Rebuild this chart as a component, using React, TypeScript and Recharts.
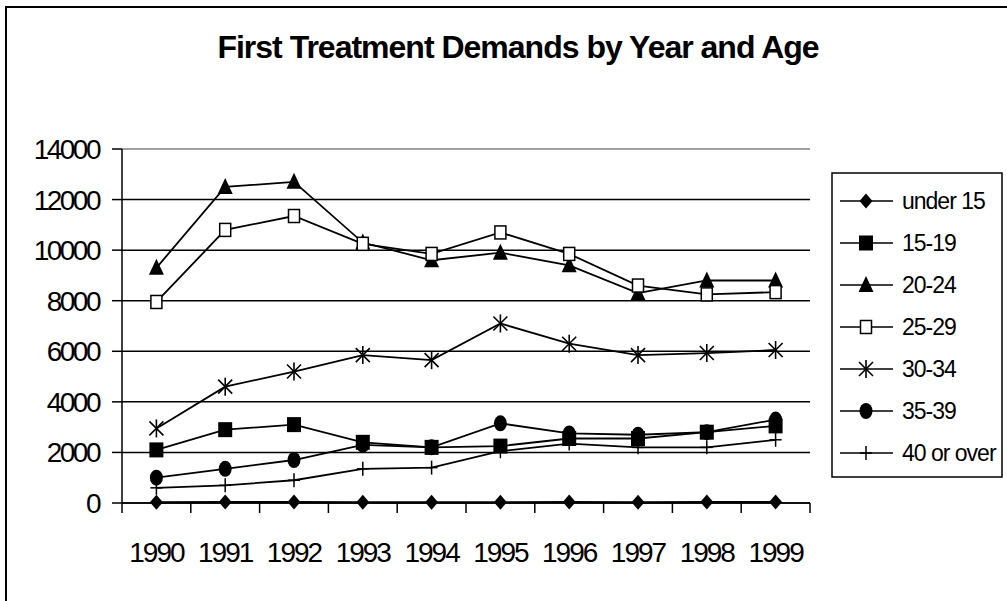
import { LineChart, Line, XAxis, YAxis, CartesianGrid, ReferenceLine } from 'recharts';

// First treatment demands, by year and age band
const years = ['1990', '1991', '1992', '1993', '1994', '1995', '1996', '1997', '1998', '1999'];
const under15 = [30, 40, 40, 30, 30, 30, 40, 30, 40, 40];
const age15to19 = [2100, 2900, 3100, 2400, 2200, 2250, 2550, 2550, 2800, 3050];
const age20to24 = [9300, 12500, 12700, 10300, 9600, 9900, 9400, 8300, 8800, 8800];
const age25to29 = [7950, 10800, 11350, 10250, 9850, 10700, 9850, 8600, 8250, 8340];
const age30to34 = [2950, 4600, 5200, 5850, 5650, 7100, 6300, 5850, 5930, 6050];
const age35to39 = [1000, 1350, 1700, 2300, 2200, 3150, 2750, 2700, 2800, 3300];
const age40plus = [600, 700, 900, 1350, 1400, 2050, 2350, 2200, 2200, 2500];
const yTicks = [0, 2000, 4000, 6000, 8000, 10000, 12000, 14000];

const seriesList = [
  { key: 'under15', name: 'under 15', values: under15, shape: 'diamond' },
  { key: 'a1519', name: '15-19', values: age15to19, shape: 'square' },
  { key: 'a2024', name: '20-24', values: age20to24, shape: 'triangle' },
  { key: 'a2529', name: '25-29', values: age25to29, shape: 'openSquare' },
  { key: 'a3034', name: '30-34', values: age30to34, shape: 'star' },
  { key: 'a3539', name: '35-39', values: age35to39, shape: 'circle' },
  { key: 'a40', name: '40 or over', values: age40plus, shape: 'plus' },
];

const data = years.map((year, i) => {
  const row: Record<string, string | number> = { year };
  seriesList.forEach((s) => { row[s.key] = s.values[i]; });
  return row;
});

const FONT = '"Liberation Sans", Arial, sans-serif';
const PLOT_LEFT = 122;
const PLOT_RIGHT = 810;
const BAND = (PLOT_RIGHT - PLOT_LEFT) / years.length;

function Marker({ shape, cx, cy }: { shape: string; cx: number; cy: number }) {
  if (cx == null || cy == null) return null;
  switch (shape) {
    case 'diamond':
      return <polygon points={`${cx},${cy - 7.5} ${cx + 6.5},${cy} ${cx},${cy + 7.5} ${cx - 6.5},${cy}`} fill="#000" />;
    case 'square':
      return <rect x={cx - 7} y={cy - 7.5} width={14} height={15} fill="#000" />;
    case 'triangle':
      return <polygon points={`${cx},${cy - 9} ${cx + 7.5},${cy + 7} ${cx - 7.5},${cy + 7}`} fill="#000" />;
    case 'openSquare':
      return <rect x={cx - 5.5} y={cy - 6.5} width={11} height={13} fill="#fff" stroke="#000" strokeWidth={1.5} />;
    case 'star':
      return (
        <g stroke="#000" strokeWidth={1.6}>
          <line x1={cx} y1={cy - 9} x2={cx} y2={cy + 9} />
          <line x1={cx - 7} y1={cy - 7} x2={cx + 7} y2={cy + 7} />
          <line x1={cx - 7} y1={cy + 7} x2={cx + 7} y2={cy - 7} />
        </g>
      );
    case 'circle':
      return <ellipse cx={cx} cy={cy} rx={6.5} ry={8} fill="#000" />;
    case 'plus':
      return (
        <g stroke="#000" strokeWidth={1.5}>
          <line x1={cx} y1={cy - 7} x2={cx} y2={cy + 7} />
          <line x1={cx - 6} y1={cy} x2={cx + 6} y2={cy} />
        </g>
      );
    default:
      return null;
  }
}

function YearTick(props: any) {
  const { x, y, payload, index } = props;
  const last = index === years.length - 1;
  return (
    <g>
      <line x1={x - BAND / 2} y1={y} x2={x - BAND / 2} y2={y + 10} stroke="#000" strokeWidth={1.5} />
      {last && <line x1={x + BAND / 2} y1={y} x2={x + BAND / 2} y2={y + 10} stroke="#000" strokeWidth={1.5} />}
      <text x={x} y={y + 59} textAnchor="middle" fontSize={28} fontFamily={FONT} letterSpacing={-2} fill="#000">
        {payload.value}
      </text>
    </g>
  );
}

function ChartLegend() {
  return (
    <svg width={172} height={306} style={{ position: 'absolute', left: 831, top: 172 }}>
      <rect x={1} y={1} width={170} height={304} fill="#fff" stroke="#000" strokeWidth={1.5} />
      {seriesList.map((s, i) => {
        const cy = 29 + i * 42;
        return (
          <g key={s.key}>
            <line x1={9} y1={cy} x2={62} y2={cy} stroke="#000" strokeWidth={1.6} />
            <Marker shape={s.shape} cx={35} cy={cy} />
            <text x={71} y={cy + 8} fontSize={23} fontFamily={FONT} letterSpacing={-1} fill="#000">
              {s.name}
            </text>
          </g>
        );
      })}
    </svg>
  );
}

export default function App() {
  return (
    <div style={{ position: 'absolute', left: 0, top: 0, width: 1007, height: 601, background: '#fff', overflow: 'hidden' }}>
      <div style={{ position: 'absolute', left: 5, top: 6, width: 1100, height: 700, borderTop: '2px solid #000', borderLeft: '2px solid #000' }} />
      <div style={{ position: 'absolute', left: 0, top: 29, width: 1036, textAlign: 'center', fontFamily: FONT, fontWeight: 'bold', fontSize: 32, letterSpacing: -1, color: '#000' }}>
        First Treatment Demands by Year and Age
      </div>
      <div style={{ position: 'absolute', left: 0, top: 0 }}>
        <LineChart width={1007} height={601} data={data} margin={{ top: 149, right: 1007 - PLOT_RIGHT, left: PLOT_LEFT - 90, bottom: 48 }}>
          <CartesianGrid vertical={false} stroke="#000" strokeWidth={1.5} />
          <ReferenceLine y={14000} stroke="#c0c0c0" strokeWidth={1.5} />
          <XAxis
            dataKey="year"
            height={50}
            padding={{ left: BAND / 2, right: BAND / 2 }}
            axisLine={{ stroke: '#000', strokeWidth: 1.5 }}
            tickLine={false}
            tickSize={0}
            tickMargin={0}
            tick={<YearTick />}
            interval={0}
          />
          <YAxis
            width={90}
            domain={[0, 14000]}
            ticks={yTicks}
            interval={0}
            axisLine={{ stroke: '#000', strokeWidth: 1.5 }}
            tickLine={{ stroke: '#000', strokeWidth: 1.5 }}
            tickSize={10}
            tickMargin={13}
            tick={{ fill: '#000', fontSize: 28, fontFamily: FONT, letterSpacing: -2.5 }}
          />
          {seriesList.map((s) => (
            <Line
              key={s.key}
              type="linear"
              dataKey={s.key}
              name={s.name}
              stroke="#000"
              strokeWidth={1.8}
              dot={(p: any) => <Marker key={`${s.key}-${p.index}`} shape={s.shape} cx={p.cx} cy={p.cy} />}
              activeDot={false}
              isAnimationActive={false}
            />
          ))}
        </LineChart>
      </div>
      <ChartLegend />
    </div>
  );
}
